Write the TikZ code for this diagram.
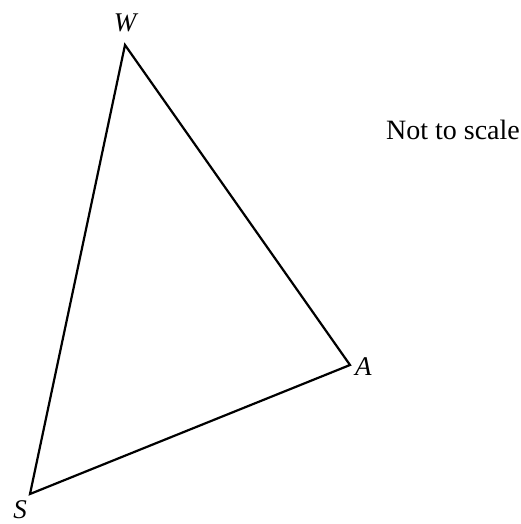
\documentclass[tikz,border=0pt]{standalone}
\usepackage{fontspec}
\setmainfont{Liberation Serif}
\usetikzlibrary{positioning}

\begin{document}
\begin{tikzpicture}[x=0.5pt,y=-0.5pt]
  \useasboundingbox (0,0) rectangle (520,524);
  \coordinate (W) at (125,45);
  \coordinate (A) at (350,365);
  \coordinate (S) at (30,494);
  \draw[line width=1.1pt, line join=miter] (W) -- (A) -- (S) -- cycle;

  \node[above=3pt of W] (lW) {\fontsize{13.5}{15}\selectfont\itshape W};
  \node[right=-1pt of A, yshift=-1pt] (lA) {\fontsize{13.5}{15}\selectfont\itshape A};
  \node[below left=0pt and -2pt of S] (lS) {\fontsize{13.5}{15}\selectfont\itshape S};

  \node (note) at (453,130) {\fontsize{14}{16}\selectfont Not to scale};
\end{tikzpicture}
\end{document}
